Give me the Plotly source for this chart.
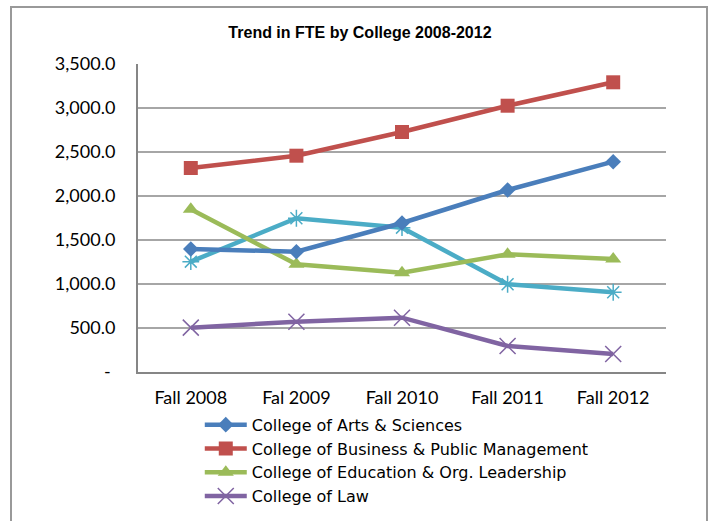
import plotly.graph_objects as go

categories = ["Fall 2008", "Fal 2009", "Fall 2010", "Fall 2011", "Fall 2012"]
arts_sciences = [1398, 1367, 1693, 2068, 2390]
business_public_mgmt = [2318, 2458, 2727, 3026, 3292]
education_org_leadership = [1849, 1224, 1128, 1337, 1284]
college_of_law = [504, 572, 617, 295, 205]
fifth_college = [1254, 1747, 1640, 997, 906]

y_tickvals = [0, 500, 1000, 1500, 2000, 2500, 3000, 3500]
y_ticktext = ["-\u00a0", "500.0", "1,000.0", "1,500.0", "2,000.0", "2,500.0", "3,000.0", "3,500.0"]

FONT = "Lato, 'Liberation Sans', Arial, sans-serif"
LEGEND_FONT = "'DejaVu Sans', 'Open Sans', Lato, sans-serif"
LW = 4.5

fig = go.Figure()

fig.add_trace(go.Scatter(
    x=categories, y=fifth_college, name="Other Programs", mode="lines+markers",
    line=dict(color="#4BACC6", width=LW),
    marker=dict(symbol="asterisk-open", size=14, color="#4BACC6",
                line=dict(color="#4BACC6", width=1.5)),
    showlegend=False))

fig.add_trace(go.Scatter(
    x=categories, y=college_of_law, name="College of Law", mode="lines+markers",
    line=dict(color="#8064A2", width=LW),
    marker=dict(symbol="x-thin-open", size=16, color="#8064A2",
                line=dict(color="#8064A2", width=1.5)),
    legendrank=4))

fig.add_trace(go.Scatter(
    x=categories, y=education_org_leadership, name="College of Education & Org. Leadership",
    mode="lines+markers",
    line=dict(color="#9BBB59", width=LW),
    marker=dict(symbol="triangle-up", size=14, color="#9BBB59"),
    legendrank=3))

fig.add_trace(go.Scatter(
    x=categories, y=arts_sciences, name="College of Arts & Sciences", mode="lines+markers",
    line=dict(color="#4A7EBB", width=LW),
    marker=dict(symbol="diamond", size=12, color="#4A7EBB"),
    legendrank=1))

fig.add_trace(go.Scatter(
    x=categories, y=business_public_mgmt, name="College of Business & Public Management",
    mode="lines+markers",
    line=dict(color="#C0504D", width=LW),
    marker=dict(symbol="square", size=14, color="#C0504D"),
    legendrank=2))

fig.update_layout(
    width=710, height=521,
    margin=dict(l=138, r=44, t=64, b=149, autoexpand=False),
    paper_bgcolor="white", plot_bgcolor="white",
    font=dict(family=FONT, size=18, color="#000000"),
    title=dict(text="<b>Trend in FTE by College 2008-2012</b>",
               font=dict(family="'Liberation Sans', Arial, sans-serif", size=16, color="#000000"),
               x=0.507, xanchor="center", y=1 - 32 / 521, yanchor="middle"),
    xaxis=dict(type="category", showgrid=False, showline=True, linecolor="#868686",
               linewidth=2, ticks="", tickfont=dict(family=FONT, size=18),
               ticklabelstandoff=8, automargin=False, range=[-0.5, 4.5]),
    yaxis=dict(range=[0, 3500], tickvals=y_tickvals, ticktext=y_ticktext,
               showgrid=True, gridcolor="#A6A6A6", gridwidth=1.5,
               showline=True, linecolor="#868686", linewidth=2, ticks="",
               zeroline=False, tickfont=dict(family=FONT, size=18),
               ticklabelstandoff=17, automargin=False),
    legend=dict(x=0.117, xanchor="left", y=-0.116, yanchor="top",
                orientation="v", traceorder="normal",
                font=dict(family=LEGEND_FONT, size=16), bgcolor="rgba(0,0,0,0)",
                itemwidth=42),
    shapes=[dict(type="rect", xref="paper", yref="paper",
                 x0=(11 - 138) / 528, x1=(707 - 138) / 528,
                 y0=-1.0, y1=(372 - 7) / 308,
                 line=dict(color="#999999", width=2), layer="below")],
)

fig.write_html("out.html", post_script="document.body.style.margin='0';",
               config={"displayModeBar": False})
